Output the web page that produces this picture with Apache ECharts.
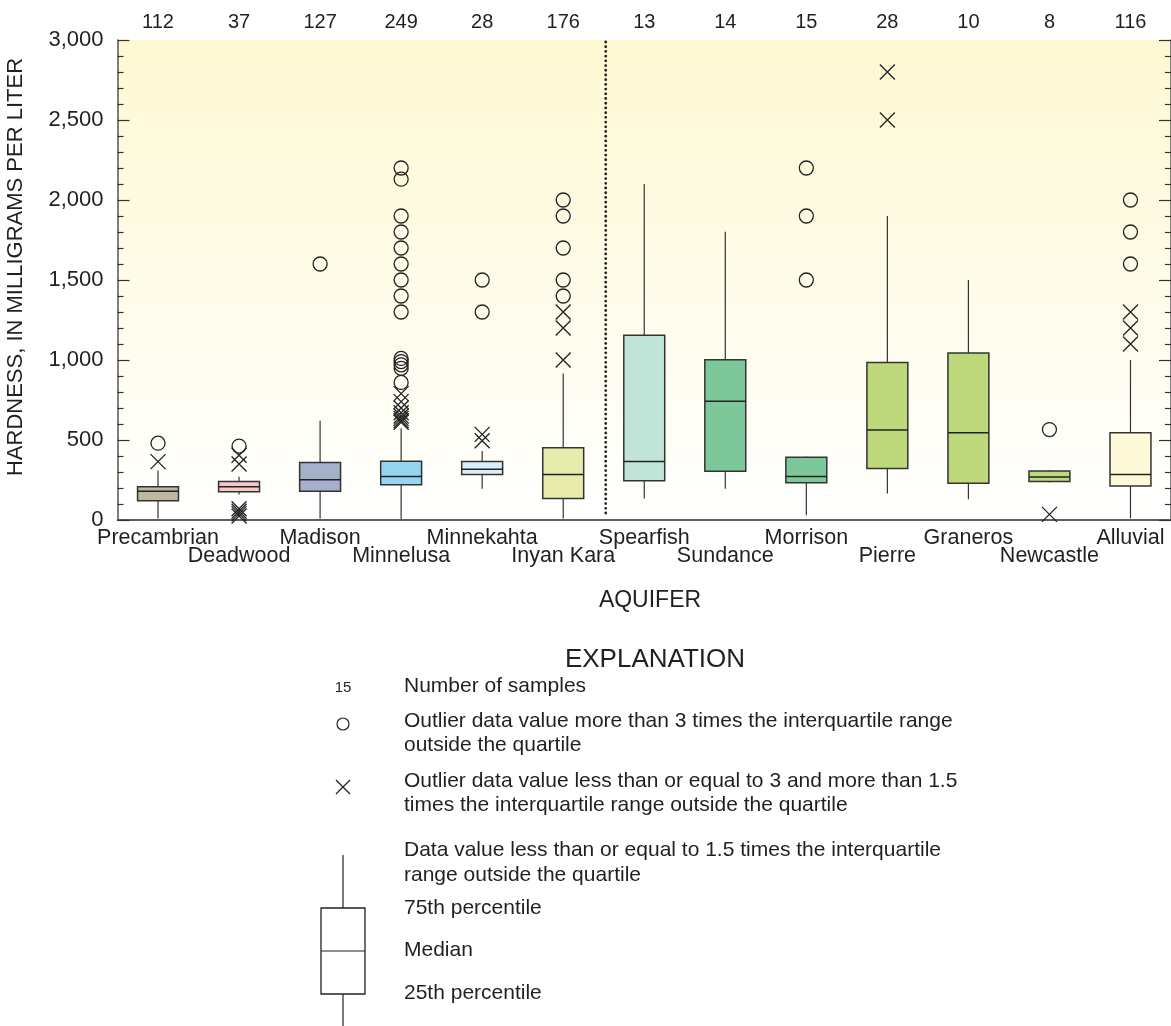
<!DOCTYPE html>
<html>
<head>
<meta charset="utf-8">
<script src="https://cdn.jsdelivr.net/npm/echarts@6/dist/echarts.min.js"></script>
<style>
  html, body { margin: 0; padding: 0; background: #ffffff; }
  #chart { width: 1171px; height: 1026px; }
</style>
</head>
<body>
<div id="chart"></div>
<script>
// Hardness of ground water by aquifer (milligrams per liter)
const categories = ['Precambrian', 'Deadwood', 'Madison', 'Minnelusa', 'Minnekahta', 'Inyan Kara',
  'Spearfish', 'Sundance', 'Morrison', 'Pierre', 'Graneros', 'Newcastle', 'Alluvial'];
const sampleCounts = [112, 37, 127, 249, 28, 176, 13, 14, 15, 28, 10, 8, 116];

const whiskerLow  = [10, 160, 10, 5, 195, 10, 135, 195, 30, 165, 130, 235, 10];
const quartile1   = [120, 177, 180, 220, 285, 135, 245, 305, 233, 322, 230, 241, 212];
const medians     = [180, 208, 252, 272, 317, 284, 365, 742, 272, 563, 545, 268, 284];
const quartile3   = [208, 240, 360, 367, 366, 452, 1155, 1002, 392, 985, 1043, 306, 545];
const whiskerHigh = [310, 271, 620, 573, 432, 915, 2100, 1802, 397, 1900, 1500, 312, 1000];

// Values more than 3 times the interquartile range outside the quartile
const farOutliers = [
  [480],
  [462],
  [1600],
  [860, 948, 970, 990, 1010, 1300, 1400, 1500, 1600, 1700, 1800, 1900, 2130, 2200],
  [1300, 1500],
  [1400, 1500, 1700, 1900, 2000],
  [],
  [],
  [1500, 1900, 2200],
  [],
  [],
  [565],
  [1600, 1800, 2000]
];
// Values between 1.5 and 3 times the interquartile range outside the quartile
const nearOutliers = [
  [365],
  [350, 405, 25, 40, 55, 70],
  [],
  [610, 620, 635, 650, 670, 700, 740, 790],
  [495, 535],
  [1000, 1200, 1300],
  [],
  [],
  [],
  [2500, 2800],
  [],
  [35],
  [1100, 1200, 1300]
];

const boxColors = ['#bdb99f', '#f7c6c9', '#a5b0ca', '#92d6f1', '#daf0f8', '#e7ebab',
  '#c1e4d9', '#7cc89a', '#7cc89a', '#bdd97b', '#bdd97b', '#bdd97b', '#fef9d8'];

const yTicks = [0, 500, 1000, 1500, 2000, 2500, 3000];
const dividerAfter = 'Inyan Kara';

const FONT = '"Liberation Sans", Arial, Helvetica, sans-serif';
const INK = '#231f20';
const AXIS = '#555555';

const boxData = categories.map((c, i) =>
  [i, whiskerLow[i], quartile1[i], medians[i], quartile3[i], whiskerHigh[i]]);
const farData = [];
farOutliers.forEach((list, i) => list.forEach(v => farData.push([i, v])));
const nearData = [];
nearOutliers.forEach((list, i) => list.forEach(v => nearData.push([i, v])));

function renderBox(params, api) {
  const i = api.value(0);
  const lo = api.coord([i, api.value(1)]);
  const bottom = api.coord([i, api.value(2)]);
  const mid = api.coord([i, api.value(3)]);
  const top = api.coord([i, api.value(4)]);
  const hi = api.coord([i, api.value(5)]);
  const w = api.size([1, 0])[0] * 0.505;
  const x = lo[0];
  const lineStyle = { stroke: '#333333', lineWidth: 1.2 };
  return {
    type: 'group',
    children: [
      { type: 'line', shape: { x1: x, y1: hi[1], x2: x, y2: top[1] }, style: lineStyle },
      { type: 'line', shape: { x1: x, y1: bottom[1], x2: x, y2: lo[1] }, style: lineStyle },
      { type: 'rect', shape: { x: x - w / 2, y: top[1], width: w, height: bottom[1] - top[1] },
        style: { fill: boxColors[i], stroke: '#333333', lineWidth: 1.5 } },
      { type: 'line', shape: { x1: x - w / 2, y1: mid[1], x2: x + w / 2, y2: mid[1] },
        style: { stroke: '#222222', lineWidth: 1.5 } }
    ]
  };
}

function renderDivider(params, api) {
  const idx = api.value(0);
  const band = api.size([1, 0])[0];
  const a = api.coord([idx, api.value(1)]);
  const b = api.coord([idx, api.value(2)]);
  const x = a[0] + band / 2 + 2;
  return {
    type: 'line',
    shape: { x1: x, y1: a[1] + 2, x2: x, y2: b[1] },
    style: { stroke: '#222222', lineWidth: 2.8, lineDash: [0.01, 4.7], lineCap: 'round' }
  };
}

const chart = echarts.init(document.getElementById('chart'), null, { renderer: 'canvas' });

const legendText = (x, y, text) => ({
  type: 'text', x: x, y: y,
  style: { text: text, font: '21px ' + FONT, fill: INK, textAlign: 'left', textVerticalAlign: 'middle' }
});
const legendLine = (x1, y1, x2, y2) => ({
  type: 'line', shape: { x1, y1, x2, y2 }, style: { stroke: '#222222', lineWidth: 1.2 }
});

chart.setOption({
  animation: false,
  backgroundColor: '#ffffff',
  grid: {
    left: 117.5, top: 40, width: 1055, height: 480,
    show: true, borderWidth: 0,
    backgroundColor: new echarts.graphic.LinearGradient(0, 0, 0, 1, [
      { offset: 0, color: '#fef8d2' },
      { offset: 1, color: '#ffffff' }
    ])
  },
  xAxis: [
    {
      type: 'category', data: categories, position: 'bottom',
      axisLine: { lineStyle: { color: AXIS, width: 1.5 } },
      axisTick: { inside: true, length: 12, alignWithLabel: true, lineStyle: { color: '#333', width: 1.2 } },
      axisLabel: {
        interval: 0, margin: 9, fontFamily: FONT, fontSize: 21.5, color: INK, lineHeight: 18,
        formatter: (v, i) => (i % 2 === 1 ? '\n' + v : v)
      }
    },
    {
      type: 'category', data: sampleCounts.map(String), position: 'top',
      axisLine: { lineStyle: { color: AXIS, width: 1.5 } },
      axisTick: { inside: true, length: 12, alignWithLabel: true, lineStyle: { color: '#333', width: 1.2 } },
      axisLabel: { interval: 0, margin: 8, fontFamily: FONT, fontSize: 20, color: INK }
    }
  ],
  yAxis: [
    {
      type: 'value', min: yTicks[0], max: yTicks[yTicks.length - 1], interval: yTicks[1] - yTicks[0],
      position: 'left',
      axisLine: { show: true, lineStyle: { color: AXIS, width: 1.5 } },
      axisTick: { show: true, inside: true, length: 12, lineStyle: { color: '#333', width: 1.2 } },
      minorTick: { show: true, splitNumber: 5, length: 6, lineStyle: { color: '#333', width: 1.2 } },
      splitLine: { show: false },
      axisLabel: {
        margin: 14, fontFamily: FONT, fontSize: 22, color: INK,
        formatter: v => v.toLocaleString('en-US')
      }
    },
    {
      type: 'value', min: yTicks[0], max: yTicks[yTicks.length - 1], interval: yTicks[1] - yTicks[0],
      position: 'right',
      axisLine: { show: true, lineStyle: { color: AXIS, width: 1.5 } },
      axisTick: { show: true, inside: true, length: 12, lineStyle: { color: '#333', width: 1.2 } },
      minorTick: { show: true, splitNumber: 5, length: 6, lineStyle: { color: '#333', width: 1.2 } },
      splitLine: { show: false },
      axisLabel: { show: false }
    }
  ],
  series: [
    {
      type: 'custom', name: 'divider', xAxisIndex: 0, yAxisIndex: 0,
      renderItem: renderDivider,
      encode: { x: 0, y: [1, 2] },
      data: [[categories.indexOf(dividerAfter), 3000, 25]],
      silent: true, z: 1
    },
    {
      type: 'custom', name: 'boxes', xAxisIndex: 0, yAxisIndex: 0,
      renderItem: renderBox,
      encode: { x: 0, y: [1, 2, 3, 4, 5] },
      data: boxData, z: 2
    },
    {
      type: 'scatter', name: 'far outliers', xAxisIndex: 0, yAxisIndex: 0,
      symbol: 'circle', symbolSize: 14,
      itemStyle: { color: 'rgba(0,0,0,0)', borderColor: '#222222', borderWidth: 1.3, opacity: 1 },
      data: farData, z: 3
    },
    {
      type: 'scatter', name: 'near outliers', xAxisIndex: 0, yAxisIndex: 0,
      symbol: 'path://M0,0L10,10M10,0L0,10', symbolSize: 15,
      itemStyle: { color: 'rgba(0,0,0,0)', borderColor: '#222222', borderWidth: 1.3, opacity: 1 },
      data: nearData, z: 3
    }
  ],
  graphic: [
    {
      type: 'text', x: 16, y: 267, rotation: Math.PI / 2,
      style: { text: 'HARDNESS, IN MILLIGRAMS PER LITER', font: '22px ' + FONT, fill: INK,
        textAlign: 'center', textVerticalAlign: 'middle' }
    },
    {
      type: 'text', x: 650, y: 601,
      style: { text: 'AQUIFER', font: '23px ' + FONT, fill: INK, textAlign: 'center', textVerticalAlign: 'middle' }
    },
    {
      type: 'text', x: 655, y: 660,
      style: { text: 'EXPLANATION', font: '26px ' + FONT, fill: INK, textAlign: 'center', textVerticalAlign: 'middle' }
    },
    {
      type: 'text', x: 343, y: 688,
      style: { text: '15', font: '15px ' + FONT, fill: INK, textAlign: 'center', textVerticalAlign: 'middle' }
    },
    legendText(404, 686, 'Number of samples'),
    { type: 'circle', shape: { cx: 343, cy: 724, r: 6 }, style: { fill: 'none', stroke: '#222222', lineWidth: 1.2 } },
    legendText(404, 721, 'Outlier data value more than 3 times the interquartile range'),
    legendText(404, 745, 'outside the quartile'),
    legendLine(336, 780, 350, 794),
    legendLine(350, 780, 336, 794),
    legendText(404, 781, 'Outlier data value less than or equal to 3 and more than 1.5'),
    legendText(404, 805, 'times the interquartile range outside the quartile'),
    legendLine(343, 855, 343, 908),
    { type: 'rect', shape: { x: 321, y: 908, width: 44, height: 86 }, style: { fill: 'none', stroke: '#222222', lineWidth: 1.3 } },
    legendLine(321, 951, 365, 951),
    legendLine(343, 994, 343, 1026),
    legendText(404, 850, 'Data value less than or equal to 1.5 times the interquartile'),
    legendText(404, 875, 'range outside the quartile'),
    legendText(404, 908, '75th percentile'),
    legendText(404, 950, 'Median'),
    legendText(404, 993, '25th percentile')
  ]
});
</script>
</body>
</html>
